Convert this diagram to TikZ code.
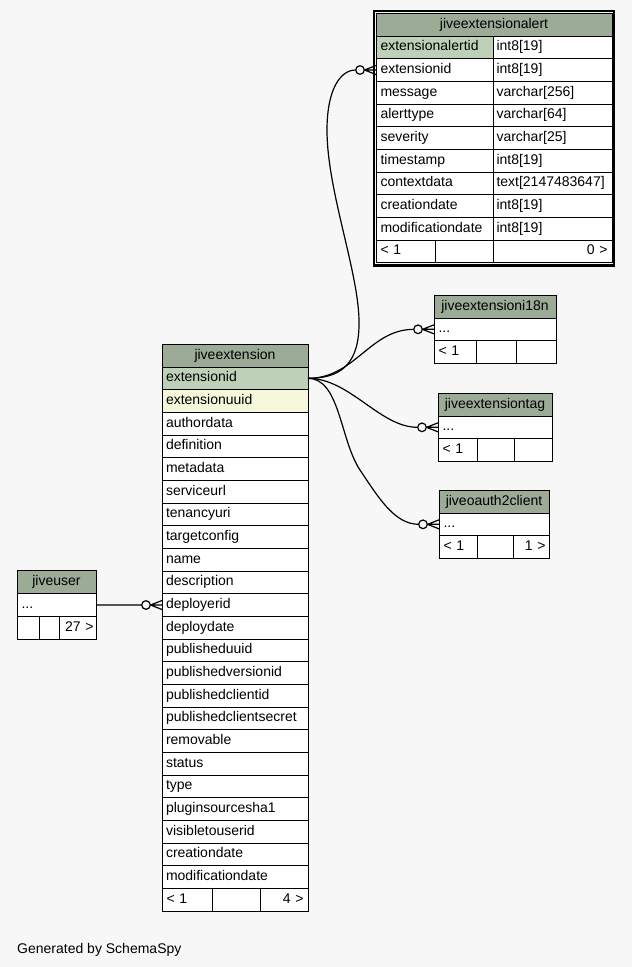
\documentclass[tikz,border=0pt]{standalone}
\usepackage{fontspec}
\setmainfont{Liberation Sans}
\usetikzlibrary{calc}
\definecolor{bgc}{HTML}{F7F7F7}
\definecolor{hdc}{HTML}{9BAB96}
\definecolor{pkc}{HTML}{BED1B8}
\definecolor{ixc}{HTML}{F4F7DA}
\newcommand\crowend[2]{%
  \coordinate (#2) at ($(#1)+(-16,0)$);
  \coordinate (#2-l) at ($(#1)+(-20.3,0)$);
  \draw[conn, fill=bgc] (#2) circle[radius=4.3pt];
  \draw[conn] ($(#1)+(-11.5,0)$) -- ($(#1)+(0,-4.5)$)
              ($(#1)+(-11.5,0)$) -- (#1)
              ($(#1)+(-11.5,0)$) -- ($(#1)+(0,4.5)$);
}
\begin{document}
\begin{tikzpicture}[x=1pt,y=-1pt,
  font=\fontsize{14}{16}\selectfont,
  cell/.style={draw=black, line width=0.9pt, fill=white, anchor=north west,
    inner xsep=4.5pt, inner ysep=0pt, outer sep=0pt, minimum height=22.67pt,
    text height=10pt, text depth=3pt, align=left},
  hcell/.style={cell, fill=hdc, align=center, minimum height=23pt},
  rcell/.style={cell, align=right},
  conn/.style={line width=1.2pt, draw=black},
]
\fill[bgc] (0,0) rectangle (632,967);
\useasboundingbox (0,0) rectangle (632,967);

% ---------- jiveextensionalert ----------
\draw[line width=2.2pt] (374,11) rectangle (614,265.5);
\node[hcell, text width=227pt] (alert-h) at (376,13) {jiveextensionalert};
\foreach \a/\b/\c [count=\i from 0] in {
  extensionalertid/int8[19]/pkc, extensionid/int8[19]/white,
  message/varchar[256]/white, alerttype/varchar[64]/white,
  severity/varchar[25]/white, timestamp/int8[19]/white,
  contextdata/text[2147483647]/white, creationdate/int8[19]/white,
  modificationdate/int8[19]/white} {
  \node[cell, fill=\c, text width=108pt] (alert-\i a) at (376,{36+\i*22.667}) {\a};
  \node[cell, text width=112pt, inner xsep=3.5pt] (alert-\i b) at (493,{36+\i*22.667}) {\b};
}
\node[cell, text width=50pt] (alert-f1) at (376,240) {< 1};
\node[cell, text width=49pt] (alert-f2) at (435,240) {};
\node[rcell, text width=110pt] (alert-f3) at (493,240) {0 >};

% ---------- jiveextension ----------
\node[hcell, text width=137pt] (ext-h) at (162,344) {jiveextension};
\foreach \t/\c [count=\i from 0] in {
  extensionid/pkc, extensionuuid/ixc, authordata/white, definition/white,
  metadata/white, serviceurl/white, tenancyuri/white, targetconfig/white,
  name/white, description/white, deployerid/white, deploydate/white,
  publisheduuid/white, publishedversionid/white, publishedclientid/white,
  publishedclientsecret/white, removable/white, status/white, type/white,
  pluginsourcesha1/white, visibletouserid/white, creationdate/white,
  modificationdate/white} {
  \node[cell, fill=\c, text width=138pt, inner xsep=4pt] (ext-\i) at (162,{367+\i*22.667}) {\t};
}
\node[cell, text width=41pt] (ext-f1) at (162,888.33) {< 1};
\node[cell, text width=39pt] (ext-f2) at (212,888.33) {};
\node[rcell, text width=39pt] (ext-f3) at (260,888.33) {4 >};

% ---------- jiveextensioni18n ----------
\node[hcell, text width=113pt] (i18n-h) at (434,295) {jiveextensioni18n};
\node[cell, text width=113pt] (i18n-0) at (434,318) {...};
\node[cell, text width=33pt] (i18n-f1) at (434,340.67) {< 1};
\node[cell, text width=31pt] (i18n-f2) at (476,340.67) {};
\node[cell, text width=31pt] (i18n-f3) at (516,340.67) {};

% ---------- jiveextensiontag ----------
\node[hcell, text width=105pt] (tag-h) at (438,393) {jiveextensiontag};
\node[cell, text width=105pt] (tag-0) at (438,416) {...};
\node[cell, text width=30pt] (tag-f1) at (438,438.67) {< 1};
\node[cell, text width=28pt] (tag-f2) at (477,438.67) {};
\node[cell, text width=29pt] (tag-f3) at (514,438.67) {};

% ---------- jiveoauth2client ----------
\node[hcell, text width=101pt] (oa-h) at (439,490) {jiveoauth2client};
\node[cell, text width=101pt] (oa-0) at (439,513) {...};
\node[cell, text width=29pt] (oa-f1) at (439,535.67) {< 1};
\node[cell, text width=27pt] (oa-f2) at (477,535.67) {};
\node[rcell, text width=29pt, inner xsep=3.5pt] (oa-f3) at (513,535.67) {1 >};

% ---------- jiveuser ----------
\node[hcell, text width=70pt] (user-h) at (17,570.67) {jiveuser};
\node[cell, text width=70pt] (user-0) at (17,593.67) {...};
\node[cell, text width=13pt] (user-f1) at (17,616.33) {};
\node[cell, text width=11pt] (user-f2) at (39,616.33) {};
\node[rcell, text width=32pt, inner xsep=2.5pt] (user-f3) at (59,616.33) {\mbox{27 >}};

% ---------- connectors ----------
\crowend{alert-1a.west}{m-alert}
\crowend{i18n-0.west}{m-i18n}
\crowend{tag-0.west}{m-tag}
\crowend{oa-0.west}{m-oa}
\crowend{ext-10.west}{m-user}

\draw[conn] (user-0.east) -- (m-user-l);
\draw[conn] (ext-0.east) .. controls +(32,0) and (360,365) .. (359,320)
  .. controls (358,270) and (327,190) .. (327,130)
  .. controls (327,90) and (340,70) .. (m-alert-l);
\draw[conn] (ext-0.east) .. controls +(47,0) and ($(m-i18n-l)+(-44,0)$) .. (m-i18n-l);
\draw[conn] (ext-0.east) .. controls +(42,0) and ($(m-tag-l)+(-38,0)$) .. (m-tag-l);
\draw[conn] (ext-0.east) .. controls +(32,0) and (340,440) .. (360,470)
  .. controls (380,500) and (395,524) .. (m-oa-l);

\node[anchor=base west, inner sep=0pt] (gen) at (17,953) {Generated by SchemaSpy};
\end{tikzpicture}
\end{document}
